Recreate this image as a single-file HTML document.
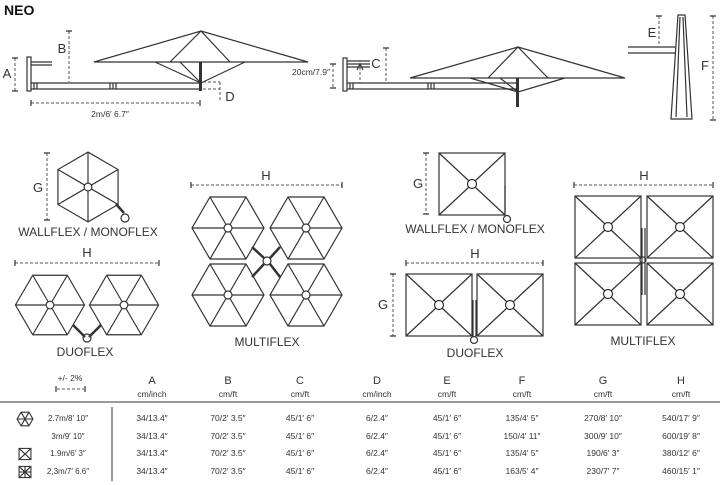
<!DOCTYPE html>
<html><head><meta charset="utf-8"><style>
html,body{margin:0;padding:0;background:#fff;}
svg{display:block;font-family:"Liberation Sans",sans-serif;}
.l{stroke:#333;stroke-width:1.2;fill:none}
.d{stroke:#555;stroke-width:1;fill:none;stroke-dasharray:3,2}
.t{fill:#333;font-size:12px;text-anchor:middle}
.s{fill:#333;font-size:8.5px;text-anchor:middle}
</style></head><body>
<svg width="720" height="485" viewBox="0 0 720 485" xmlns="http://www.w3.org/2000/svg">
<defs>
<g id="hx">
<polygon class="l" points="36,0 18,31 -18,31 -36,0 -18,-31 18,-31"/>
<path class="l" d="M-36,0H-4M4,0H36M18,31L2,3.5M-18,-31L-2,-3.5M-18,31L-2,3.5M18,-31L2,-3.5"/>
<circle class="l" r="4"/>
</g>
<g id="sq">
<rect class="l" x="-33" y="-31" width="66" height="62"/>
<path class="l" d="M-33,-31L-3,-3M33,31L3,3M33,-31L3,-3M-33,31L-3,3"/>
<circle class="l" r="4.5"/>
</g>
</defs>
<text x="4" y="15" style="font-size:14px;font-weight:bold;fill:#111">NEO</text>

<rect x="27" y="57" width="4" height="34" fill="#fff" stroke="#333" stroke-width="1.2"/>
<path class="l" d="M31,62H52M31,65H52"/>
<path class="l" d="M31,83H200M31,89H200"/>
<path class="l" d="M34,83V89M37,83V89M110,83V89M113,83V89M116,83V89"/>
<path class="l" d="M94,62H308L201,31Z M170,62L201,31L230,62 M155,62L201,83L245,62 M180,62L201,83"/>
<rect x="199" y="62" width="3" height="29" fill="#333"/>
<path class="d" d="M69,31V82M15,58V91M31,103H200M203,82H220M203,89H220M220,82V100"/>
<path class="l" d="M66,31H72M12,58H18M12,91H18M31,100V106M200,100V106"/>
<text class="t" x="62" y="53" style="font-size:13px">B</text>
<text class="t" x="7" y="78" style="font-size:13px">A</text>
<text class="t" x="230" y="101" style="font-size:13px">D</text>
<text class="s" x="110" y="117">2m/6′ 6.7″</text>

<rect x="343" y="58" width="4" height="33" fill="#fff" stroke="#333" stroke-width="1.2"/>
<path class="l" d="M347,61H370M347,64H370M347,67H370"/>
<path class="l" d="M347,83H517M347,89H517M350,83V89M353,83V89M428,83V89M431,83V89M434,83V89"/>
<path class="l" d="M410,78H625L518,47Z M488,78L518,47L548,78 M470,78L518,92L565,78 M500,78L518,92"/>
<rect x="516" y="78" width="3" height="29" fill="#333"/>
<path class="d" d="M386,48V82M360,67V83M333,64V88"/>
<path class="l" d="M383,48H389M330,64H336M330,88H336M357,70L360,64L363,70"/>
<text class="t" x="376" y="68" style="font-size:13px">C</text>
<text class="s" x="311" y="75">20cm/7.9″</text>

<path class="l" d="M628,47H675M628,53H675"/>
<polygon class="l" points="678,15 685,15 692,119 671,119"/>
<path class="l" d="M680,17L676,117M683,17L687,117"/>
<path class="d" d="M659,16V44M713,16V120"/>
<path class="l" d="M656,16H662M710,16H716M710,120H716"/>
<text class="t" x="652" y="37" style="font-size:13px">E</text>
<text class="t" x="705" y="70" style="font-size:13px">F</text>

<use href="#hx" transform="translate(88,187) rotate(90) scale(0.97)"/>
<path d="M116,204L124,213" stroke="#333" stroke-width="2.5"/>
<circle class="l" cx="125" cy="218" r="4" fill="#fff"/>
<path class="d" d="M47,153V220"/><path class="l" d="M44,153H50M44,220H50"/>
<text class="t" x="38" y="192" style="font-size:13px">G</text>
<text class="t" x="88" y="236">WALLFLEX / MONOFLEX</text>

<path class="d" d="M15,263H159"/><path class="l" d="M15,260V266M159,260V266"/>
<text class="t" x="87" y="257" style="font-size:13px">H</text>
<use href="#hx" transform="translate(50,305) scale(0.96)"/>
<use href="#hx" transform="translate(124,305) scale(0.96)"/>
<path d="M73,325L85,337M101,325L89,337" stroke="#333" stroke-width="2.5"/>
<circle class="l" cx="87" cy="338" r="4" fill="#fff"/>
<text class="t" x="85" y="356">DUOFLEX</text>

<path class="d" d="M191,185H342"/><path class="l" d="M191,182V188M342,182V188"/>
<text class="t" x="266" y="180" style="font-size:13px">H</text>
<use href="#hx" transform="translate(228,228)"/>
<use href="#hx" transform="translate(306,228)"/>
<use href="#hx" transform="translate(228,295)"/>
<use href="#hx" transform="translate(306,295)"/>
<path d="M252,247L264,258M280,247L270,258M252,277L264,264M280,277L270,264" stroke="#333" stroke-width="2.5"/>
<circle class="l" cx="267" cy="261" r="4" fill="#fff"/>
<text class="t" x="267" y="346">MULTIFLEX</text>

<use href="#sq" transform="translate(472,184)"/>
<path class="l" d="M505,185V215"/>
<circle class="l" cx="507" cy="219" r="3.5" fill="#fff"/>
<path class="d" d="M426,153V214"/><path class="l" d="M423,153H429M423,214H429"/>
<text class="t" x="418" y="188" style="font-size:13px">G</text>
<text class="t" x="475" y="233">WALLFLEX / MONOFLEX</text>

<path class="d" d="M406,263H543"/><path class="l" d="M406,260V266M543,260V266"/>
<text class="t" x="475" y="258" style="font-size:13px">H</text>
<path class="d" d="M393,274V336"/><path class="l" d="M390,274H396M390,336H396"/>
<text class="t" x="383" y="309" style="font-size:13px">G</text>
<use href="#sq" transform="translate(439,305)"/>
<use href="#sq" transform="translate(510,305)"/>
<path class="l" d="M473,300V336M476,300V336"/>
<circle class="l" cx="474" cy="340" r="3.5" fill="#fff"/>
<text class="t" x="475" y="357">DUOFLEX</text>

<path class="d" d="M574,185H713"/><path class="l" d="M574,182V188M713,182V188"/>
<text class="t" x="644" y="180" style="font-size:13px">H</text>
<use href="#sq" transform="translate(608,227)"/>
<use href="#sq" transform="translate(680,227)"/>
<use href="#sq" transform="translate(608,294)"/>
<use href="#sq" transform="translate(680,294)"/>
<path class="l" d="M642,228V295M645,228V295"/>
<circle class="l" cx="643" cy="260" r="3" fill="#fff"/>
<text class="t" x="643" y="345">MULTIFLEX</text>

<text class="s" x="70" y="381">+/- 2%</text>
<path class="d" d="M57,389H84"/><path class="l" d="M56,386V392M85,386V392"/>
<g class="t" style="font-size:11px">
<text x="152" y="384">A</text><text x="228" y="384">B</text><text x="300" y="384">C</text><text x="377" y="384">D</text>
<text x="447" y="384">E</text><text x="522" y="384">F</text><text x="603" y="384">G</text><text x="681" y="384">H</text>
</g>
<g class="s">
<text x="152" y="397">cm/inch</text><text x="228" y="397">cm/ft</text><text x="300" y="397">cm/ft</text><text x="377" y="397">cm/inch</text>
<text x="447" y="397">cm/ft</text><text x="522" y="397">cm/ft</text><text x="603" y="397">cm/ft</text><text x="681" y="397">cm/ft</text>
</g>
<rect x="0" y="401" width="720" height="2" fill="#999"/>
<path d="M112,407V481" stroke="#333" stroke-width="1"/>
<g transform="translate(25,419) scale(0.22)"><polygon class="l" style="stroke-width:5" points="36,0 18,31 -18,31 -36,0 -18,-31 18,-31"/><path class="l" style="stroke-width:5" d="M-36,0H36M18,31L-18,-31M-18,31L18,-31"/></g>
<g transform="translate(25,454) scale(0.18)"><rect class="l" x="-33" y="-31" width="66" height="62" style="stroke-width:6"/><path class="l" style="stroke-width:6" d="M-33,-31L33,31M33,-31L-33,31"/></g>
<g transform="translate(25,472) scale(0.18)"><rect class="l" x="-33" y="-31" width="66" height="62" style="stroke-width:6"/><path class="l" style="stroke-width:6" d="M-33,-31L33,31M33,-31L-33,31M0,-31V31M-33,0H33"/></g>
<g class="s" style="font-size:8px">
<text x="68" y="421">2.7m/8′ 10″</text>
<text x="68" y="439">3m/9′ 10″</text>
<text x="68" y="456">1.9m/6′ 3″</text>
<text x="68" y="474">2,3m/7′ 6.6″</text>
</g>
<g class="s">
<text x="152" y="421">34/13.4″</text><text x="228" y="421">70/2′ 3.5″</text><text x="300" y="421">45/1′ 6″</text><text x="377" y="421">6/2.4″</text><text x="447" y="421">45/1′ 6″</text><text x="522" y="421">135/4′ 5″</text><text x="603" y="421">270/8′ 10″</text><text x="681" y="421">540/17′ 9″</text>
<text x="152" y="439">34/13.4″</text><text x="228" y="439">70/2′ 3.5″</text><text x="300" y="439">45/1′ 6″</text><text x="377" y="439">6/2.4″</text><text x="447" y="439">45/1′ 6″</text><text x="522" y="439">150/4′ 11″</text><text x="603" y="439">300/9′ 10″</text><text x="681" y="439">600/19′ 8″</text>
<text x="152" y="456">34/13.4″</text><text x="228" y="456">70/2′ 3.5″</text><text x="300" y="456">45/1′ 6″</text><text x="377" y="456">6/2.4″</text><text x="447" y="456">45/1′ 6″</text><text x="522" y="456">135/4′ 5″</text><text x="603" y="456">190/6′ 3″</text><text x="681" y="456">380/12′ 6″</text>
<text x="152" y="474">34/13.4″</text><text x="228" y="474">70/2′ 3.5″</text><text x="300" y="474">45/1′ 6″</text><text x="377" y="474">6/2.4″</text><text x="447" y="474">45/1′ 6″</text><text x="522" y="474">163/5′ 4″</text><text x="603" y="474">230/7′ 7″</text><text x="681" y="474">460/15′ 1″</text>
</g>
</svg>
</body></html>
